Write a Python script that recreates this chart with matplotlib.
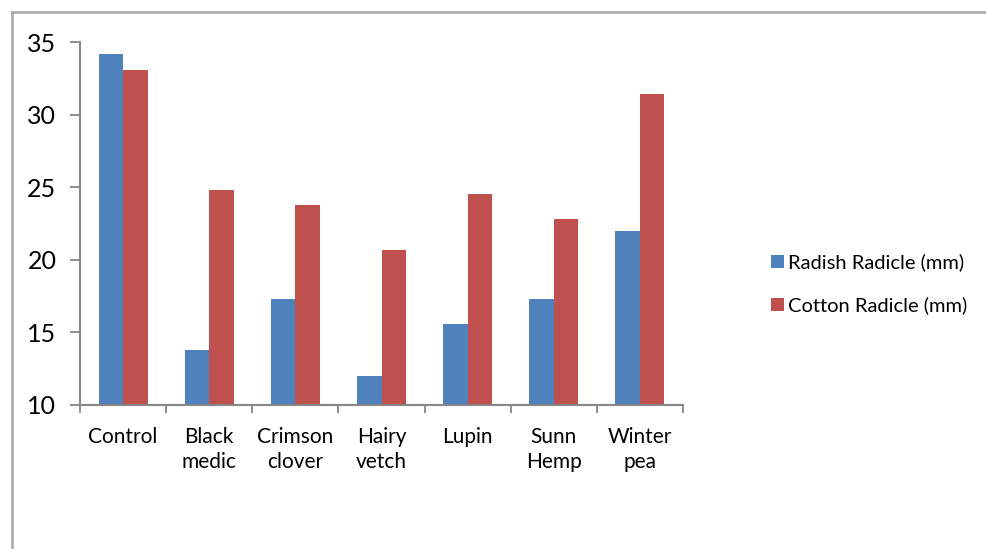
import numpy as np
import matplotlib
matplotlib.use("Agg")
import matplotlib.pyplot as plt
from matplotlib.lines import Line2D

plt.rcParams["font.family"] = ["Lato", "DejaVu Sans"]

# values
categories = ["Control", "Black\nmedic", "Crimson\nclover", "Hairy\nvetch",
              "Lupin", "Sunn\nHemp", "Winter\npea"]
radish_radicle = [34.2, 13.8, 17.3, 12.0, 15.6, 17.3, 22.0]
cotton_radicle = [33.1, 24.8, 23.8, 20.7, 24.5, 22.8, 31.4]
series_names = ["Radish Radicle (mm)", "Cotton Radicle (mm)"]

BLUE = "#4F81BD"
RED = "#C0504D"
AXIS_GREY = "#868686"

fig = plt.figure(figsize=(9.86, 5.49), dpi=100)
ax = fig.add_axes([80 / 986, 144 / 549, 603 / 986, 363 / 549])

x = np.arange(len(categories))
w = 0.285
b1 = ax.bar(x - w / 2, np.array(radish_radicle) - 10, w, bottom=10, color=BLUE,
            label=series_names[0])
b2 = ax.bar(x + w / 2, np.array(cotton_radicle) - 10, w, bottom=10, color=RED,
            label=series_names[1])

ax.set_xlim(-0.5, len(categories) - 0.5)
ax.set_ylim(10, 35)
ax.set_yticks([10, 15, 20, 25, 30, 35])
ax.tick_params(axis="y", direction="out", length=7, width=1.3, color=AXIS_GREY,
               labelsize=18, pad=10)

# category labels at centres, ticks at category boundaries
ax.set_xticks(x)
ax.set_xticklabels(categories, fontsize=15, linespacing=1.3)
ax.tick_params(axis="x", length=0, pad=16)
ax.set_xticks(np.arange(len(categories) + 1) - 0.5, minor=True)
ax.tick_params(axis="x", which="minor", direction="out", length=6, width=1.3,
               color=AXIS_GREY)

for s in ["top", "right"]:
    ax.spines[s].set_visible(False)
for s in ["left", "bottom"]:
    ax.spines[s].set_color(AXIS_GREY)
    ax.spines[s].set_linewidth(1.5)

fig.legend(handles=[b1, b2], loc="center left", bbox_to_anchor=(753 / 986, 1 - 284 / 549),
           frameon=False, fontsize=14.5, handlelength=0.65, handleheight=0.65,
           handletextpad=0.2, labelspacing=1.25)

# outer chart frame (only left and top edges visible)
fig.add_artist(Line2D([12 / 986, 12 / 986], [0, 1 - 12 / 549], transform=fig.transFigure,
                      color="#A6A6A6", linewidth=1.8))
fig.add_artist(Line2D([12 / 986, 1], [1 - 12 / 549, 1 - 12 / 549], transform=fig.transFigure,
                      color="#A6A6A6", linewidth=1.8))

fig.savefig("out.png", dpi=100)
